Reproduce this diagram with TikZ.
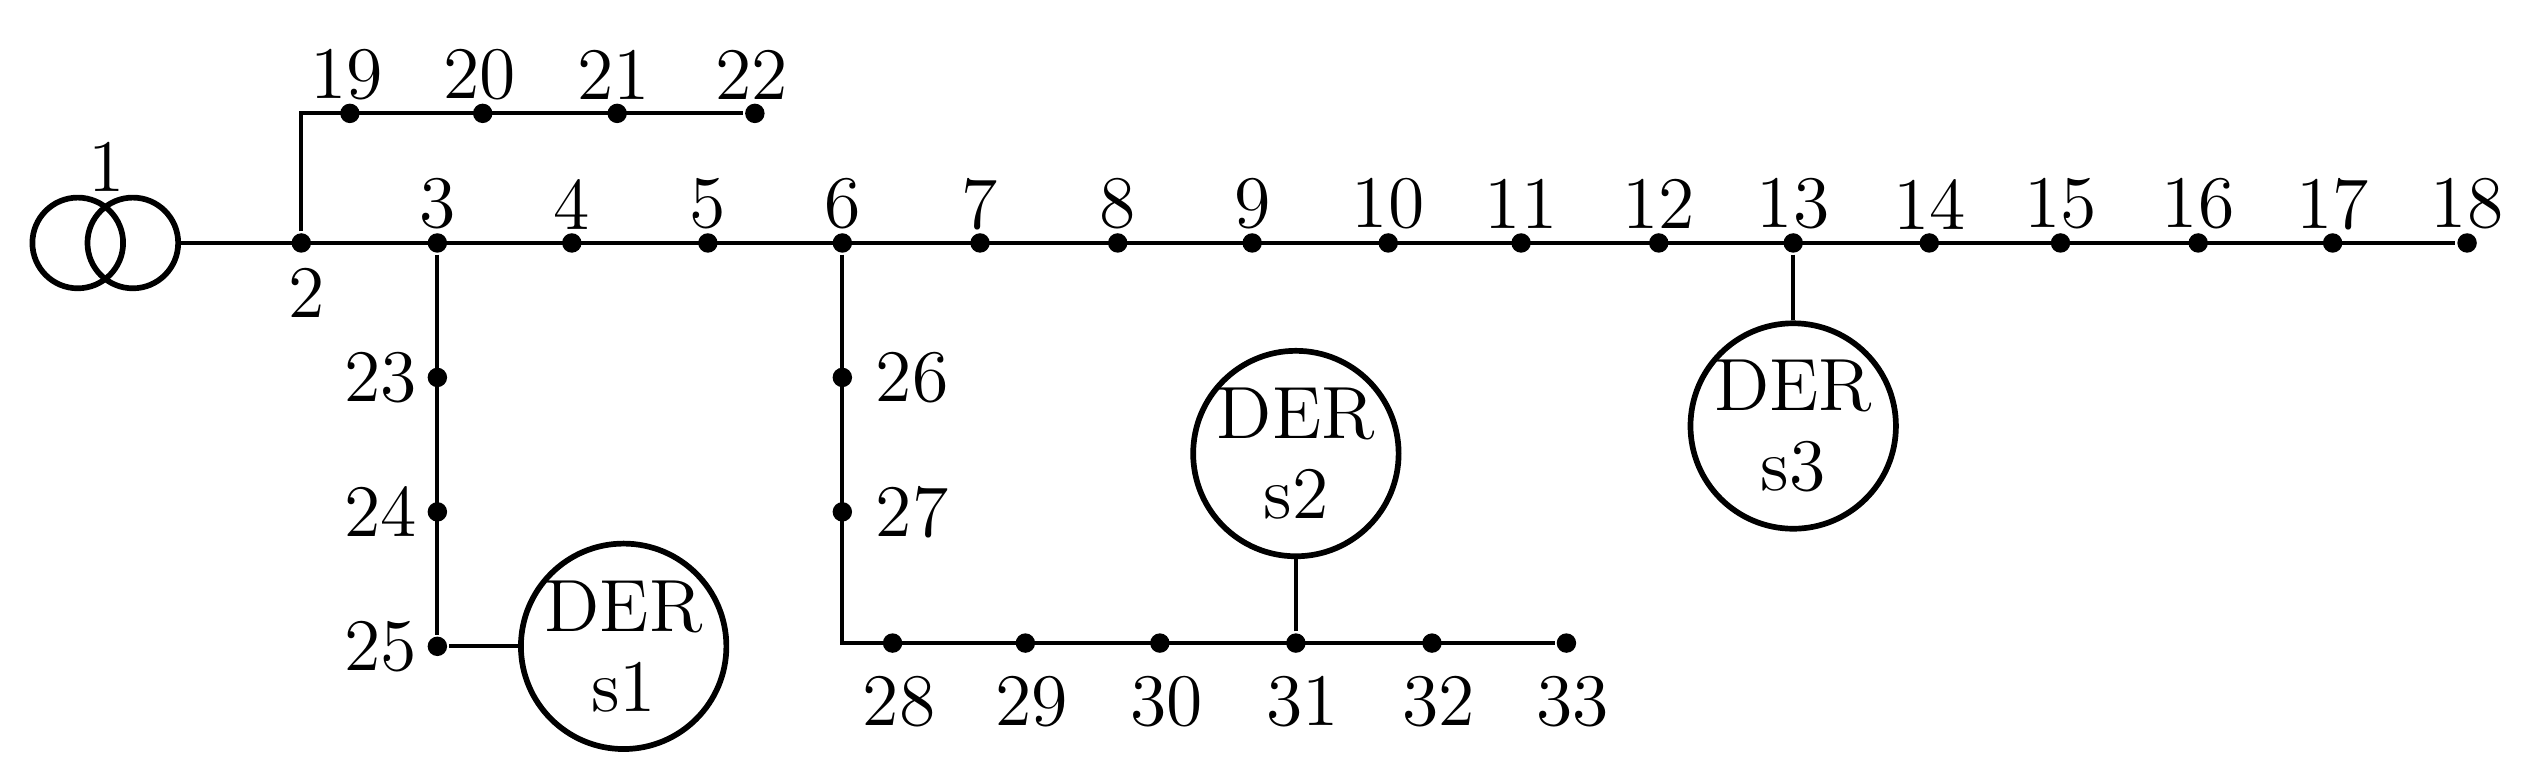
\documentclass[tikz,border=0pt]{standalone}
\begin{document}
\begin{tikzpicture}[x=0.01cm,y=-0.01cm,line width=0.7pt,
  bus/.style={circle,fill=black,inner sep=0pt,minimum size=0.12cm},
  der/.style={circle,draw,line width=1pt,minimum size=1.2cm,inner sep=0pt,align=center,font=\fontsize{13}{14}\selectfont},
  lbl/.style={font=\fontsize{13}{15}\selectfont,inner sep=1pt}]
\useasboundingbox (0,0) rectangle (1568,483);
% transformer
\draw[line width=1pt] (48,150) circle (28);
\draw[line width=1pt] (82,150) circle (28);
\coordinate (tr) at (110,150);
\node[lbl] at (66,103) {1};
% main feeder
\foreach \n/\x in {2/186,3/270,4/353,5/437,6/520,7/605,8/690,9/773,10/857,11/939,12/1024,13/1107,14/1191,15/1272,16/1357,17/1440,18/1523}
  \node[bus] (b\n) at (\x,150) {};
\draw (tr) -- (b18);
\node[lbl] at (189,181) {2};
\foreach \n/\x in {3/270,4/353,5/437,6/520,7/605,8/690,9/773,10/857,11/939,12/1024,13/1107,14/1191,15/1272,16/1357,17/1440,18/1523}
  \node[lbl] at (\x,126) {\n};
% branch 19-22
\foreach \n/\x in {19/216,20/298,21/381,22/466}
  {\node[bus] (b\n) at (\x,70) {}; \node[lbl] at (\x-2,46) {\n};}
\coordinate (c2) at (186,70);
\draw (b2) -- (c2) -- (b22);
% branch 23-25
\foreach \n/\y in {23/233,24/316,25/399}
  {\node[bus] (b\n) at (270,\y) {}; \node[lbl,anchor=east] at (262,\y) {\n};}
\draw (b3) -- (b25);
\node[der] (s1) at (385,399) {DER\\s1};
\draw (b25) -- (s1);
% branch 26-33
\foreach \n/\y in {26/233,27/316}
  {\node[bus] (b\n) at (520,\y) {}; \node[lbl,anchor=west] at (536,\y) {\n};}
\foreach \n/\x in {28/551,29/633,30/716,31/800,32/884,33/967}
  {\node[bus] (b\n) at (\x,397) {}; \node[lbl] at (\x+4,433) {\n};}
\coordinate (c6) at (520,397);
\draw (b6) -- (c6) -- (b33);
\node[der] (s2) at (800,280) {DER\\s2};
\draw (b31) -- (s2);
\node[der] (s3) at (1107,263) {DER\\s3};
\draw (b13) -- (s3);
\end{tikzpicture}
\end{document}
